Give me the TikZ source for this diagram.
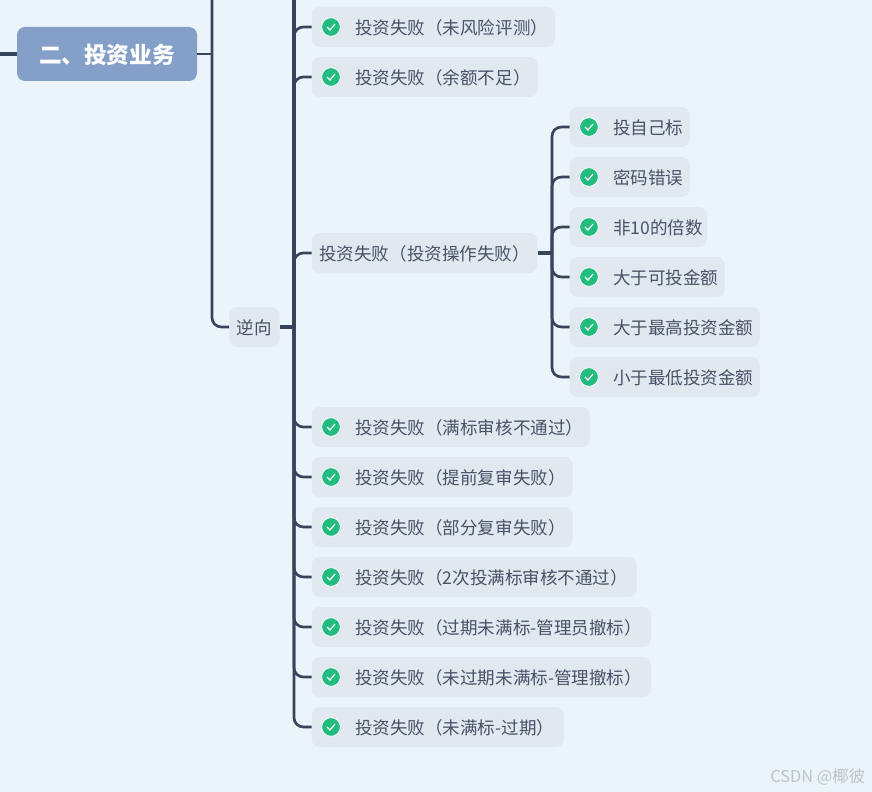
\documentclass[tikz,border=0pt]{standalone}
\usepackage{fontspec}
\setmainfont{Noto Sans CJK SC}
\usetikzlibrary{positioning}
\definecolor{pagebg}{HTML}{EBF3FB}
\definecolor{leafbg}{HTML}{E2E8F0}
\definecolor{rootbg}{HTML}{84A0C8}
\definecolor{linecol}{HTML}{36445C}
\definecolor{textcol}{HTML}{475266}
\definecolor{tickcol}{HTML}{22BC7E}
\definecolor{markcol}{HTML}{BFC4CC}
\newcommand{\lowtext}[1]{\raisebox{-0.75pt}[\height][\depth]{#1}}

\begin{document}
\begin{tikzpicture}[
        x=0.75pt, y=-0.75pt,
        leaf/.style={rectangle, rounded corners=6pt, fill=leafbg, text=textcol, anchor=west,
                    minimum height=30pt, inner xsep=0pt, inner ysep=0pt, align=left, font=\fontsize{13.15}{15}\selectfont},
        plain/.style={leaf, inner xsep=5.7pt},
        root/.style={rectangle, rounded corners=6pt, fill=rootbg, text=white, minimum width=135pt,
                    minimum height=40.5pt, font=\fontsize{17}{20}\bfseries\selectfont},
        tick/.style={circle, fill=tickcol, draw=white, line width=0.6pt, minimum size=14pt, inner sep=0pt,
                    path picture={\draw[white, line width=0.9pt] (-4,0) -- (-1,3) -- (4,-3);}},
        link/.style={draw=linecol, line width=2pt, rounded corners=7pt},
        stub/.style={draw=linecol, line width=2.6pt}
      ]
        \useasboundingbox (0,0) rectangle (872,792);
        \fill[pagebg] (0,0) rectangle (872,792);

        \node[root] (root) at (107,54) {\lowtext{二、投资业务}};
        \node[plain] (back) at (229,327) {\lowtext{逆向}};
        \node[plain] (fail) at (311.5,253) {\lowtext{投资失败（投资操作失败）}};
        \coordinate (rootend) at (0,54);
        \coordinate (roothub) at (212,54);
        \coordinate (roottop) at (212,0);
        \coordinate (backtop) at (294,0);
        \coordinate (backhub) at (294,327);
        \coordinate (failhub) at (552,253);

        \draw[stub] (rootend) -- (root.west);
        \draw[stub, line width=2pt] (root.east) -- (roothub);
        \draw[link] (roottop) |- (back.west);
        \draw[stub] (back.east) -- (backhub);
        \draw[link, line width=2.3pt] (backtop) -- (backhub);
        \draw[link] (backhub) |- (fail.west);
        \draw[stub] (fail.east) -- (failhub);

        % second column
        \foreach \nm/\ypos/\wid/\txt in {a/27/243/投资失败（未风险评测）, b/77/226/投资失败（余额不足）,
            c/427/278/投资失败（满标审核不通过）, d/477/261/投资失败（提前复审失败）,
            e/527/261/投资失败（部分复审失败）, f/577/325/投资失败（2次投满标审核不通过）,
            g/627/339/投资失败（过期未满标-管理员撤标）, h/677/339/投资失败（未过期未满标-管理撤标）,
            i/727/252/投资失败（未满标-过期）}{
          \node[leaf, text width=\wid*0.75pt] (\nm) at (311.5,\ypos) {\hspace*{32.6pt}\lowtext{\txt}};
          \node[tick] (\nm t) at (331,\ypos) {};
          \draw[link] (backhub) |- (\nm.west);
        }

        % third column
        \foreach \nm/\ypos/\wid/\txt in {j/127/120/投自己标, k/177/120/密码错误, l/227/137/非10的倍数,
            m/277/155/大于可投金额, n/327/190/大于最高投资金额, o/377/190/小于最低投资金额}{
          \node[leaf, text width=\wid*0.75pt] (\nm) at (569.5,\ypos) {\hspace*{32.6pt}\lowtext{\txt}};
          \node[tick] (\nm t) at (589,\ypos) {};
          \draw[link] (failhub) |- (\nm.west);
        }

        \node[anchor=east, text=markcol, font=\fontsize{12.3}{14}\selectfont] (mark) at (870,777) {CSDN @椰彼};
      \end{tikzpicture}
\end{document}
